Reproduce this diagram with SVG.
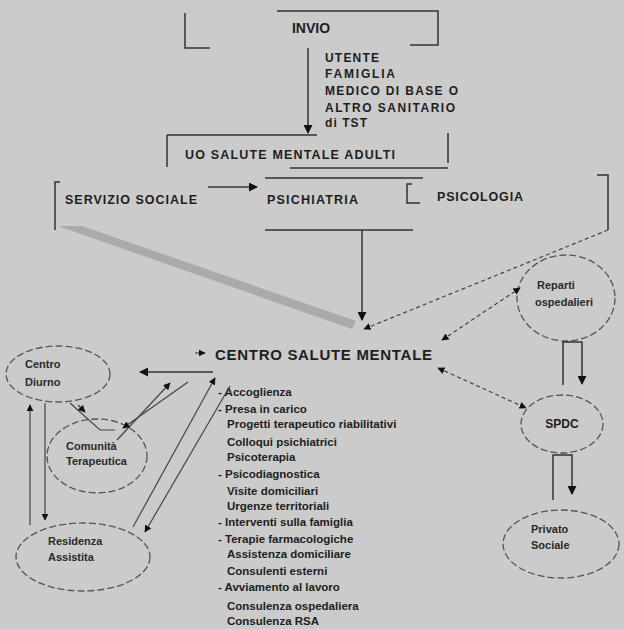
<svg xmlns="http://www.w3.org/2000/svg" width="624" height="629" viewBox="0 0 624 629">
<style>
text{font-family:"Liberation Sans",Arial,sans-serif;fill:#1e1e1e}
.h{font-weight:bold;font-size:12.5px}
.t{font-size:11px;font-weight:bold;fill:#2a2a2a}
.l{font-size:11.5px;font-weight:bold;fill:#333}
.s{font-size:12px;font-weight:bold}
.ln{fill:none;stroke:#333;stroke-width:1.5}
.gl{fill:none;stroke:#444;stroke-width:1.2}
.dl{fill:none;stroke:#444;stroke-width:1.2;stroke-dasharray:4 3}
.el{fill:none;stroke:#555;stroke-width:1.3;stroke-dasharray:7 3}
</style>
<defs>
<marker id="a" viewBox="0 0 10 10" refX="9" refY="5" markerWidth="6" markerHeight="6" orient="auto-start-reverse"><path d="M0,0L10,5L0,10z" fill="#111"/></marker>
</defs>
<rect width="624" height="629" fill="#cbcbcb"/>

<g id="invio">
<path class="ln" d="M277,11H438V45H410M185,13V48H210"/>
<text x="311" y="33" text-anchor="middle" style="font-weight:bold;font-size:14px">INVIO</text>
</g>
<g id="utenti">
<text class="s" x="325" y="62" textLength="54">UTENTE</text>
<text class="s" x="325" y="78" textLength="70">FAMIGLIA</text>
<text class="s" x="325" y="95" textLength="133">MEDICO DI BASE O</text>
<text class="s" x="325" y="112" textLength="130">ALTRO SANITARIO</text>
<text class="s" x="325" y="127" textLength="42">di TST</text>
</g>
<g id="uo">
<path class="ln" d="M167,135H317M167,135V167M448,133V163M290,168H448"/>
<text class="h" x="185" y="159" textLength="210">UO SALUTE MENTALE ADULTI</text>
</g>
<g id="servizi">
<path class="ln" d="M60,182H55V230"/>
<text class="h" x="65" y="204" textLength="132">SERVIZIO SOCIALE</text>
<path class="ln" d="M265,178H423M265,230H413"/>
<text class="h" x="267" y="204" textLength="91">PSICHIATRIA</text>
<path class="ln" d="M412,184H407V203H420"/>
<text class="h" x="437" y="201" textLength="86">PSICOLOGIA</text>
<path class="ln" d="M597,175H608V230"/>
<polygon points="58,226 82,226 356,321 352,329" fill="#aaaaaa"/>
</g>
<g id="csm">
<text x="215" y="360" style="font-weight:bold;font-size:15px" textLength="217">CENTRO SALUTE MENTALE</text>
<g class="l">
<text x="218" y="396">- Accoglienza</text>
<text x="218" y="413">- Presa in carico</text>
<text x="227" y="428">Progetti terapeutico riabilitativi</text>
<text x="227" y="446">Colloqui psichiatrici</text>
<text x="227" y="461">Psicoterapia</text>
<text x="218" y="478">- Psicodiagnostica</text>
<text x="227" y="495">Visite domiciliari</text>
<text x="227" y="510">Urgenze territoriali</text>
<text x="218" y="526">- Interventi sulla famiglia</text>
<text x="218" y="543">- Terapie farmacologiche</text>
<text x="227" y="558">Assistenza domiciliare</text>
<text x="227" y="575">Consulenti esterni</text>
<text x="218" y="591">- Avviamento al lavoro</text>
<text x="227" y="610">Consulenza ospedaliera</text>
<text x="227" y="625">Consulenza RSA</text>
</g>
</g>
<g id="reparti">
<ellipse class="el" cx="566" cy="298" rx="49" ry="43"/>
<text class="t" x="537" y="289">Reparti</text>
<text class="t" x="535" y="306">ospedalieri</text>
</g>
<g id="spdc">
<ellipse class="el" cx="562" cy="424" rx="41" ry="29"/>
<text class="s" x="562" y="428" text-anchor="middle">SPDC</text>
</g>
<g id="privato">
<ellipse class="el" cx="561" cy="544" rx="58" ry="34"/>
<text class="t" x="531" y="533">Privato</text>
<text class="t" x="531" y="549">Sociale</text>
</g>
<g id="diurno">
<ellipse class="el" cx="58" cy="374" rx="52" ry="28"/>
<text class="t" x="25" y="368">Centro</text>
<text class="t" x="25" y="386">Diurno</text>
</g>
<g id="comunita">
<ellipse class="el" cx="97" cy="456" rx="50" ry="37"/>
<text class="t" x="66" y="450">Comunità</text>
<text class="t" x="66" y="465">Terapeutica</text>
</g>
<g id="residenza">
<ellipse class="el" cx="83" cy="557" rx="67" ry="34"/>
<text class="t" x="48" y="545">Residenza</text>
<text class="t" x="48" y="561">Assistita</text>
</g>
<g id="connectors">
<path class="ln" d="M308,48V133" marker-end="url(#a)"/>
<path class="ln" d="M208,187H257" marker-end="url(#a)"/>
<path class="ln" d="M362,230V320" marker-end="url(#a)"/>
<path class="dl" d="M608,230L364,329" marker-end="url(#a)"/>
<path class="dl" d="M442,340L520,288" marker-start="url(#a)" marker-end="url(#a)"/>
<path class="dl" d="M438,368L526,408" marker-start="url(#a)" marker-end="url(#a)"/>
<path class="ln" d="M563,385V342H582V384" marker-end="url(#a)"/>
<path class="ln" d="M553,500V455H572V494" marker-end="url(#a)"/>
<path class="ln" d="M213,372H140" stroke-width="2.5" marker-end="url(#a)"/>
<path class="gl" d="M195,353H205" marker-end="url(#a)"/>
<path class="gl" d="M170,383L117,440" marker-start="url(#a)"/>
<path class="gl" d="M188,382L123,428" marker-end="url(#a)"/>
<path class="gl" d="M70,403L100,430H115"/>
<path class="gl" d="M78,405L85,412" marker-end="url(#a)"/>
<path class="gl" d="M30,525V405" marker-end="url(#a)"/>
<path class="gl" d="M45,403V520" marker-end="url(#a)"/>
<path class="gl" d="M133,527L215,378" marker-end="url(#a)"/>
<path class="gl" d="M230,386L145,532" marker-end="url(#a)"/>
</g>
</svg>
